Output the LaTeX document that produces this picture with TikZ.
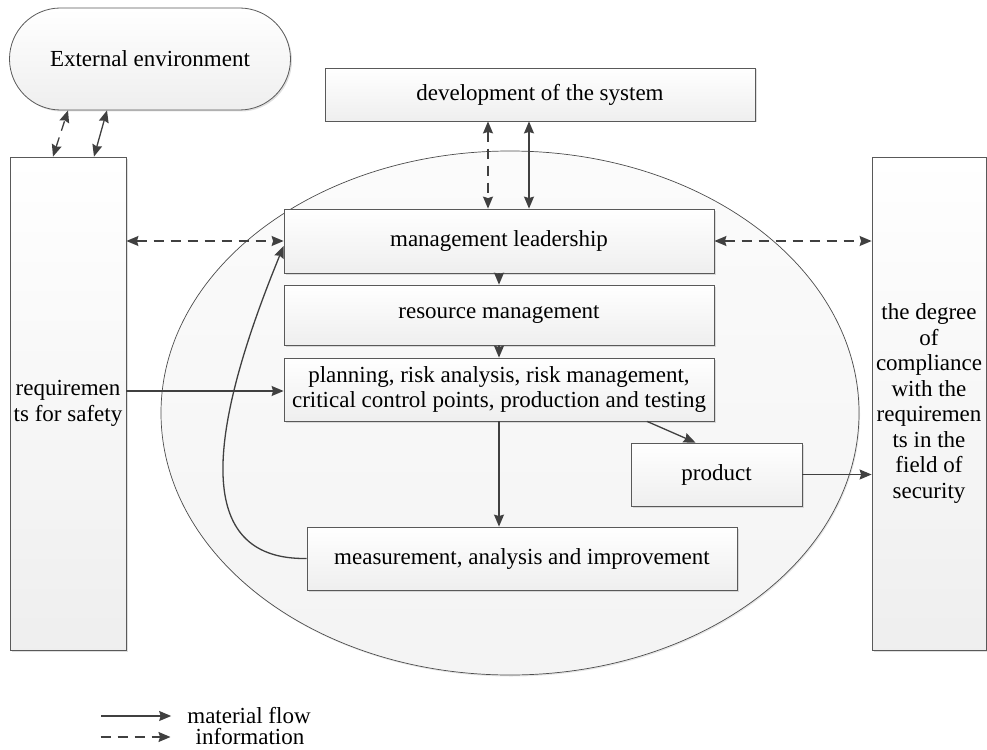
\documentclass[tikz,border=0pt]{standalone}
\usepackage{fontspec}
\setmainfont{Liberation Serif}
\usetikzlibrary{arrows.meta,shadows}
\tikzset{
  box/.style={draw=black!65, line width=0.8pt, top color=white, bottom color=gray!13,
    drop shadow={shadow xshift=1.5pt, shadow yshift=-1.5pt, opacity=0.25},
    inner sep=0pt, align=center},
  flow/.style={draw=black!75, line width=1.3pt},
  info/.style={flow, dash pattern=on 10pt off 7pt},
}
\begin{document}
\begin{tikzpicture}[x=1pt, y=-1pt, >={Stealth[length=12pt,width=10pt,inset=1.5pt]},
    font=\fontsize{23}{25.5}\selectfont]
  \useasboundingbox (0,0) rectangle (987,749);
  % organisation
  \draw[draw=black!70, line width=0.7pt, top color=gray!3, bottom color=gray!9,
    drop shadow={shadow xshift=1pt, shadow yshift=-1.5pt, opacity=0.2}]
    (510,413) ellipse [x radius=349, y radius=262];
  % outer boxes
  \node[box, rounded corners=51pt, minimum width=281pt, minimum height=102pt] (extenv) at (150,59) {External environment};
  \node[box, minimum width=116pt, minimum height=493pt] (req) at (68,403.5) {requiremen\\ts for safety};
  \node[box, minimum width=114pt, minimum height=493pt] (degree) at (929,403.5)
    {the degree\\of\\compliance\\with the\\requiremen\\ts in the\\field of\\security};
  \node[box, minimum width=430pt, minimum height=53pt] (dev) at (540,94.5) {development of the system};
  % inner boxes
  \node[box, minimum width=430pt, minimum height=64pt] (mgmt) at (499,241) {management leadership};
  \node[box, minimum width=430pt, minimum height=60pt] (res) at (499,315) {resource management};
  \node[box, minimum width=430pt, minimum height=63pt] (plan) at (499,389.5)
    {planning, risk analysis, risk management,\\critical control points, production and testing};
  \node[box, minimum width=171pt, minimum height=63pt] (prod) at (716.5,474.5) {product};
  \node[box, minimum width=430pt, minimum height=63pt] (meas) at (522,558.5) {measurement, analysis and improvement};
  % information
  \draw[info, <->] ([xshift=-15pt]req.north) -- ([xshift=-82pt]extenv.south);
  \draw[info, <->] ([xshift=-52pt]dev.south) -- ([xshift=-11pt]mgmt.north);
  \draw[info, <->] (req.east |- mgmt.west) -- (mgmt.west);
  \draw[info, <->] (mgmt.east) -- (degree.west |- mgmt.east);
  % material flow
  \draw[flow, <->] ([xshift=26pt]req.north) -- ([xshift=-43pt]extenv.south);
  \draw[flow, <->] ([xshift=-11pt]dev.south) -- ([xshift=30pt]mgmt.north);
  \draw[flow, ->] (mgmt.south) -- (res.north);
  \draw[flow, ->] (res.south) -- (plan.north);
  \draw[flow, ->] ([yshift=-1.5pt]req.east |- plan.west) -- ([yshift=-1.5pt]plan.west);
  \draw[flow, ->] ([xshift=148pt]plan.south) -- ([xshift=-21pt]prod.north);
  \draw[flow, ->] (plan.south) -- (plan.south |- meas.north);
  \draw[flow, ->] (prod.east) -- (degree.west |- prod.east);
  \draw[flow, ->] (meas.west) .. controls (200,560) and (200,450) .. ([yshift=-5pt]mgmt.west);
  % legend
  \node[inner sep=0pt] (lgmat) at (249,716) {material flow};
  \node[inner sep=0pt] (lginf) at (250,737) {information};
  \draw[flow, ->] ([xshift=-86pt]lgmat.west) -- ([xshift=-16pt]lgmat.west);
  \draw[info, ->] ([xshift=-95pt]lginf.west) -- ([xshift=-25pt]lginf.west);
\end{tikzpicture}
\end{document}
